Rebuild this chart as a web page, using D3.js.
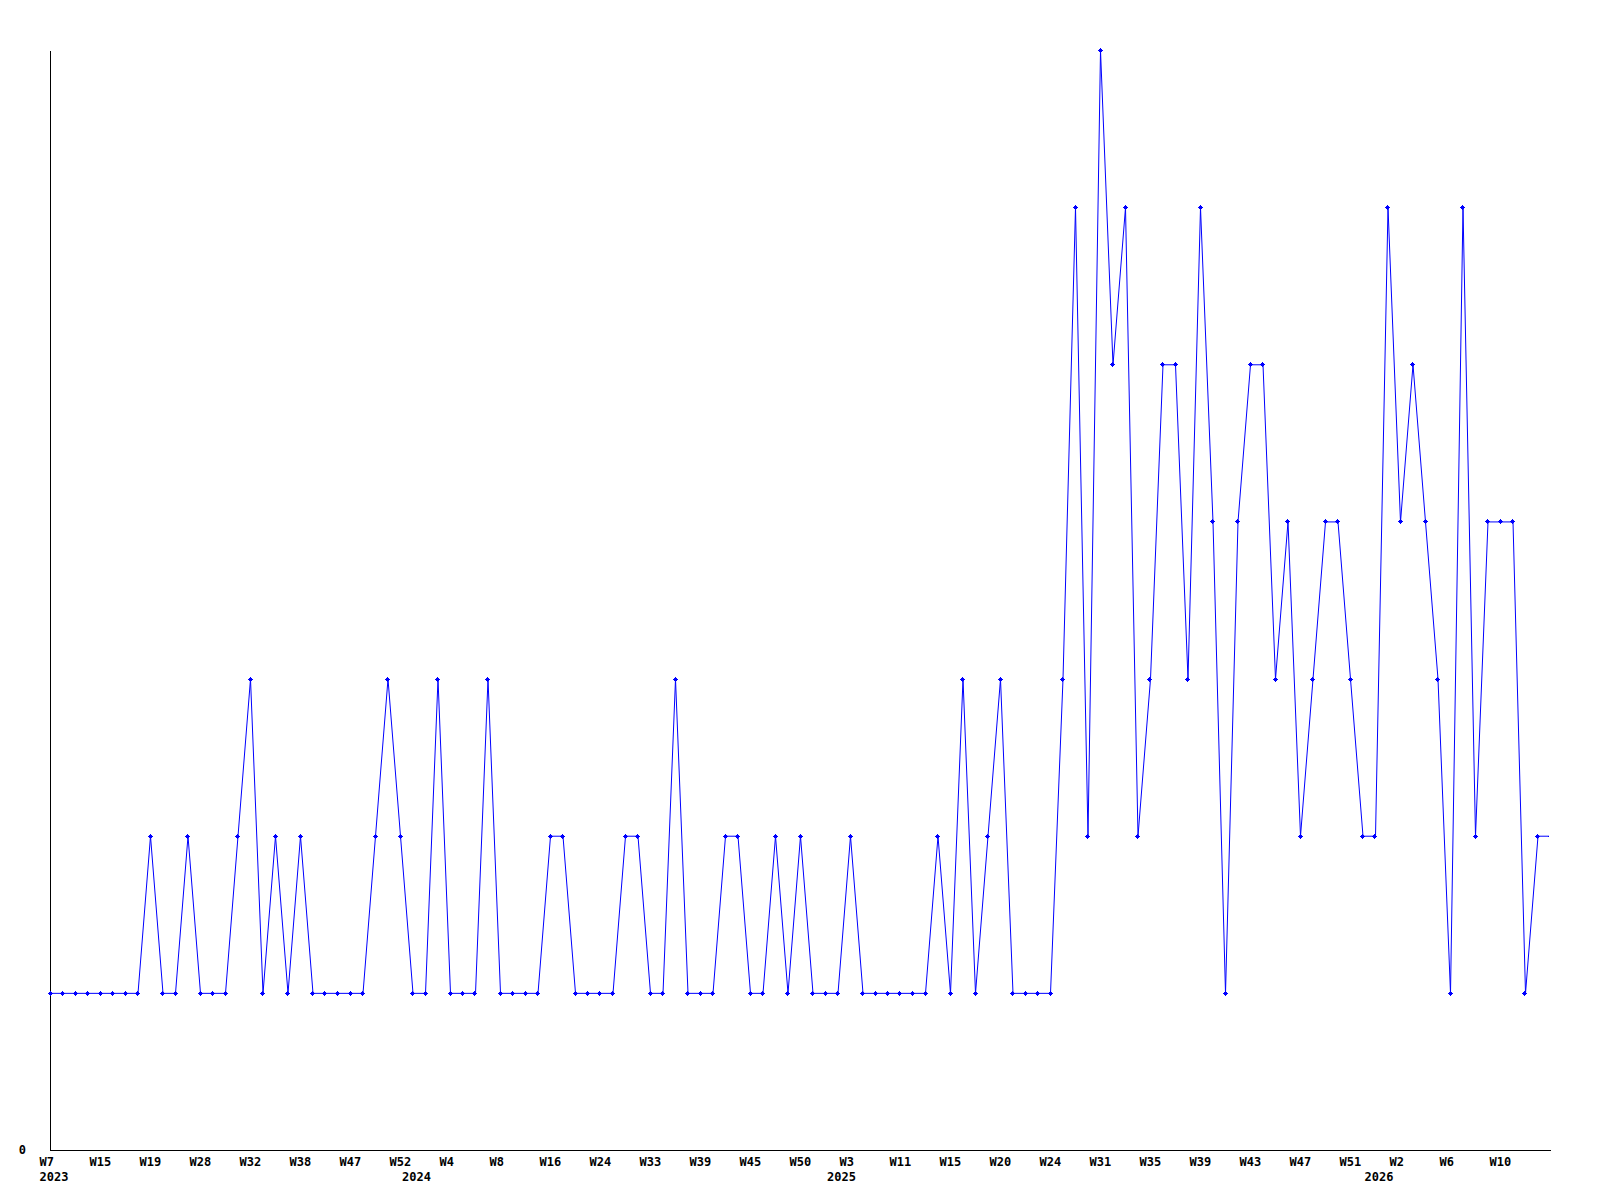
<!DOCTYPE html>
<html>
<head>
<meta charset="utf-8">
<script src="https://cdn.jsdelivr.net/npm/d3@7"></script>
<style>
  html, body { margin: 0; padding: 0; background: #ffffff; }
  svg { display: block; }
  text { font-family: "DejaVu Sans Mono", "Liberation Mono", monospace; font-weight: bold; font-size: 12px; fill: #000; }
</style>
</head>
<body>
<svg id="chart" width="1600" height="1200"></svg>
<script>
// ---- data ----
const values = [
  1,1,1,1,1,1,1,1,2,1,
  1,2,1,1,1,2,3,1,2,1,
  2,1,1,1,1,1,2,3,2,1,
  1,3,1,1,1,3,1,1,1,1,
  2,2,1,1,1,1,2,2,1,1,
  3,1,1,1,2,2,1,1,2,1,
  2,1,1,1,2,1,1,1,1,1,
  1,2,1,3,1,2,3,1,1,1,
  1,3,6,2,7,5,6,2,3,5,
  5,3,6,4,1,4,5,5,3,4,
  2,3,4,4,3,2,2,6,4,5,
  4,3,1,6,2,4,4,4,1,2,
  2
];
const weekTicks = [
  "W7","W15","W19","W28","W32","W38","W47","W52","W4","W8",
  "W16","W24","W33","W39","W45","W50","W3","W11","W15","W20",
  "W24","W31","W35","W39","W43","W47","W51","W2","W6","W10"
];
const tickEvery = 4;
const yearLabels = ["2023","2024","2025","2026"];
const yearStartIndex = [0, 29, 63, 106];
const yTickValues = [0];
const yMax = 7;

// ---- layout ----
const svg = d3.select("#chart");
const mLeft = 50, mRight = 1550, mTop = 50, mBottom = 1150;

const x = d3.scaleLinear().domain([0, values.length - 1]).range([mLeft, mRight]);
const y = d3.scaleLinear().domain([0, yMax]).range([mBottom, mTop]);

const blue = "#0000ff";

// axes
const xAxis = d3.axisBottom(x)
  .tickValues(weekTicks.map((d, i) => i * tickEvery))
  .tickFormat((d, i) => weekTicks[i])
  .tickSizeInner(0).tickSizeOuter(0).tickPadding(0);
const gx = svg.append("g").attr("transform", `translate(0,${mBottom})`).call(xAxis);
gx.select(".domain").attr("stroke", "#000").attr("shape-rendering", "crispEdges");
gx.selectAll(".tick text")
  .attr("text-anchor", "start")
  .attr("x", -11)
  .attr("y", 16)
  .attr("dy", 0);

const yearAxis = d3.axisBottom(x)
  .tickValues(yearStartIndex)
  .tickFormat((d, i) => yearLabels[i])
  .tickSizeInner(0).tickSizeOuter(0).tickPadding(0);
const gyear = svg.append("g").attr("transform", `translate(0,${mBottom})`).call(yearAxis);
gyear.select(".domain").remove();
gyear.selectAll(".tick text")
  .attr("text-anchor", "start")
  .attr("x", -11)
  .attr("y", 31)
  .attr("dy", 0);

const yAxis = d3.axisLeft(y)
  .tickValues(yTickValues)
  .tickFormat(d3.format("d"))
  .tickSizeInner(0).tickSizeOuter(0).tickPadding(24);
const gy = svg.append("g").attr("transform", `translate(${mLeft},0)`).call(yAxis);
gy.select(".domain").attr("stroke", "#000").attr("shape-rendering", "crispEdges");
gy.selectAll(".tick text").attr("dy", "0.32em");
svg.selectAll(".tick line").remove();
svg.selectAll("g").attr("font-family", null).attr("font-size", null);

// clip to plot area
svg.append("defs").append("clipPath").attr("id", "plotclip")
  .append("rect").attr("x", mLeft - 5).attr("y", mTop - 5)
  .attr("width", mRight - mLeft + 4).attr("height", mBottom - mTop + 10);

const plot = svg.append("g").attr("clip-path", "url(#plotclip)");

// line
const line = d3.line().x((d, i) => x(i)).y(d => y(d));
plot.append("path")
  .datum(values)
  .attr("d", line)
  .attr("transform", "translate(0.5,0.5)")
  .attr("fill", "none")
  .attr("stroke", blue)
  .attr("stroke-width", 1);

// markers
const markerPath = "M-1.5,-1.5h3v3h-3z M-2.5,-0.5h5v1h-5z M-0.5,-2.5h1v5h-1z";
plot.selectAll("path.marker")
  .data(values)
  .join("path")
  .attr("class", "marker")
  .attr("d", markerPath)
  .attr("transform", (d, i) => `translate(${Math.floor(x(i)) + 0.5},${Math.round(y(d)) + 0.5})`)
  .attr("fill", blue)
  .attr("shape-rendering", "crispEdges");
</script>
</body>
</html>
